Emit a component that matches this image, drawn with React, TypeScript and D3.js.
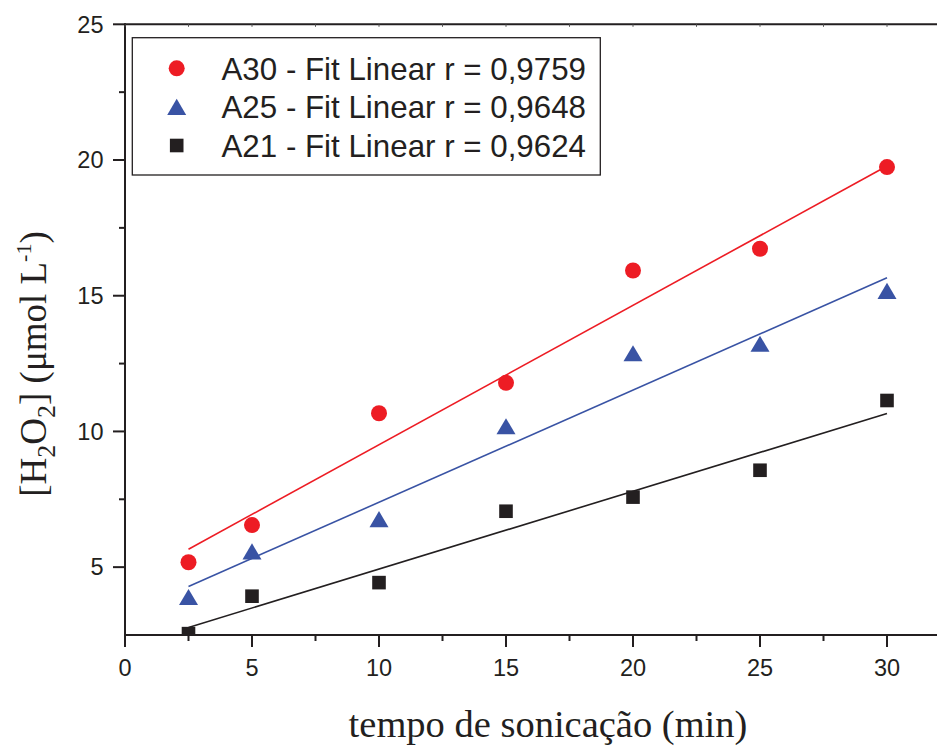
import React from "react";
import * as d3 from "d3";

const times = [2.5, 5, 10, 15, 20, 25, 30];
const a30 = [5.18, 6.55, 10.67, 11.79, 15.93, 16.73, 19.74];
const a25 = [3.9, 5.58, 6.77, 10.19, 12.88, 13.23, 15.18];
const a21 = [2.55, 3.93, 4.43, 7.06, 7.58, 8.57, 11.14];
const fitX = [2.5, 30];
const fitA30 = [5.66, 19.78];
const fitA25 = [4.29, 15.66];
const fitA21 = [2.78, 10.66];
const xMajor = [0, 5, 10, 15, 20, 25, 30];
const xMinor = [2.5, 7.5, 12.5, 17.5, 22.5, 27.5];
const yMajor = [5, 10, 15, 20, 25];
const yMinor = [7.5, 12.5, 17.5, 22.5];
const legendLabels = [
  "A30 - Fit Linear r = 0,9759",
  "A25 - Fit Linear r = 0,9648",
  "A21 - Fit Linear r = 0,9624",
];

const RED = "#ED1C24";
const BLUE = "#3953A4";
const BLACK = "#231F20";
const SANS = "'Liberation Sans', Arial, sans-serif";
const SERIF = "'Liberation Serif', 'Times New Roman', serif";

const W = 937;
const H = 747;
const L = 125;
const T = 24.3;
const B = 635;
const RIGHT = 960;

const x = d3.scaleLinear().domain([0, 30]).range([L, 887]);
const y = d3.scaleLinear().domain([2.5, 25]).range([B, T]);

const line = d3
  .line<[number, number]>()
  .x((d) => x(d[0]))
  .y((d) => y(d[1]));

const tri = (cx: number, cy: number, s: number) => {
  const h = s * 0.85;
  return `M${cx},${cy - h / 2}L${cx + s / 2},${cy + h / 2}L${cx - s / 2},${cy + h / 2}Z`;
};

function Marker({ kind, cx, cy }: { kind: number; cx: number; cy: number }) {
  if (kind === 0) return <circle cx={cx} cy={cy} r={8} fill={RED} />;
  if (kind === 1) return <path d={tri(cx, cy, 19)} fill={BLUE} />;
  return <rect x={cx - 6.8} y={cy - 6.8} width={13.6} height={13.6} fill={BLACK} />;
}

export default function App() {
  const series = [
    { vals: a30, fit: fitA30, color: RED, kind: 0 },
    { vals: a25, fit: fitA25, color: BLUE, kind: 1 },
    { vals: a21, fit: fitA21, color: BLACK, kind: 2 },
  ];
  return (
    <svg
      width={W}
      height={H}
      style={{ position: "absolute", left: 0, top: 0, background: "#fff" }}
    >
      <defs>
        <clipPath id="plot">
          <rect x={L} y={T} width={RIGHT - L} height={B - T} />
        </clipPath>
      </defs>
      <rect x={0} y={0} width={W} height={H} fill="#fff" />

      {series.map((s, i) => (
        <path
          key={"f" + i}
          d={line(fitX.map((v, j) => [v, s.fit[j]]) as [number, number][]) || ""}
          stroke={s.color}
          strokeWidth={1.6}
          fill="none"
        />
      ))}

      <g clipPath="url(#plot)">
        {series.map((s, i) =>
          s.vals.map((v, j) => (
            <Marker key={i + "-" + j} kind={s.kind} cx={x(times[j])} cy={y(v)} />
          ))
        )}
      </g>

      <line x1={L} x2={RIGHT} y1={T} y2={T} stroke={BLACK} strokeWidth={2} />
      <line x1={L} x2={RIGHT} y1={B} y2={B} stroke={BLACK} strokeWidth={2} />
      <line x1={L} x2={L} y1={T - 1} y2={B + 1} stroke={BLACK} strokeWidth={2} />

      {[...xMajor, ...xMinor].map((v) => (
        <line key={"tt" + v} x1={x(v)} x2={x(v)} y1={T} y2={T + 2.5} stroke="#555" strokeWidth={1} />
      ))}

      {xMajor.map((v) => (
        <g key={"xm" + v}>
          <line x1={x(v)} x2={x(v)} y1={B} y2={B + 12} stroke={BLACK} strokeWidth={2} />
          <text x={x(v)} y={675.5} textAnchor="middle" fontFamily={SANS} fontSize={23.5} fill={BLACK}>
            {v}
          </text>
        </g>
      ))}
      {xMinor.map((v) => (
        <line key={"xn" + v} x1={x(v)} x2={x(v)} y1={B} y2={B + 6} stroke={BLACK} strokeWidth={2} />
      ))}
      {yMajor.map((v) => (
        <g key={"ym" + v}>
          <line x1={L - 12} x2={L} y1={y(v)} y2={y(v)} stroke={BLACK} strokeWidth={2} />
          <text x={103.5} y={y(v) + 8.3} textAnchor="end" fontFamily={SANS} fontSize={23.5} fill={BLACK}>
            {v}
          </text>
        </g>
      ))}
      {yMinor.map((v) => (
        <line key={"yn" + v} x1={L - 6} x2={L} y1={y(v)} y2={y(v)} stroke={BLACK} strokeWidth={2} />
      ))}

      <rect x={132.3} y={37.7} width={468} height={137.3} fill="#fff" stroke={BLACK} strokeWidth={1.3} />
      {legendLabels.map((lab, i) => {
        const cy = 68.3 + i * 38.6;
        return (
          <g key={"lg" + i}>
            <Marker kind={i} cx={176.7} cy={cy} />
            <text x={221.5} y={cy + 11.5} fontFamily={SANS} fontSize={31.3} fill={BLACK}>
              {lab}
            </text>
          </g>
        );
      })}

      <text x={548} y={737} textAnchor="middle" fontFamily={SERIF} fontSize={38.5} fill={BLACK}>
        tempo de sonicação (min)
      </text>
      <text
        transform="translate(46,364) rotate(-90)"
        textAnchor="middle"
        fontFamily={SERIF}
        fontSize={37}
        fill={BLACK}
      >
        [H
        <tspan fontSize={26} dy={9}>2</tspan>
        <tspan dy={-9}>O</tspan>
        <tspan fontSize={26} dy={9}>2</tspan>
        <tspan dy={-9}>] (μmol L</tspan>
        <tspan fontSize={22} dy={-15}>-1</tspan>
        <tspan dy={15}>)</tspan>
      </text>
    </svg>
  );
}
